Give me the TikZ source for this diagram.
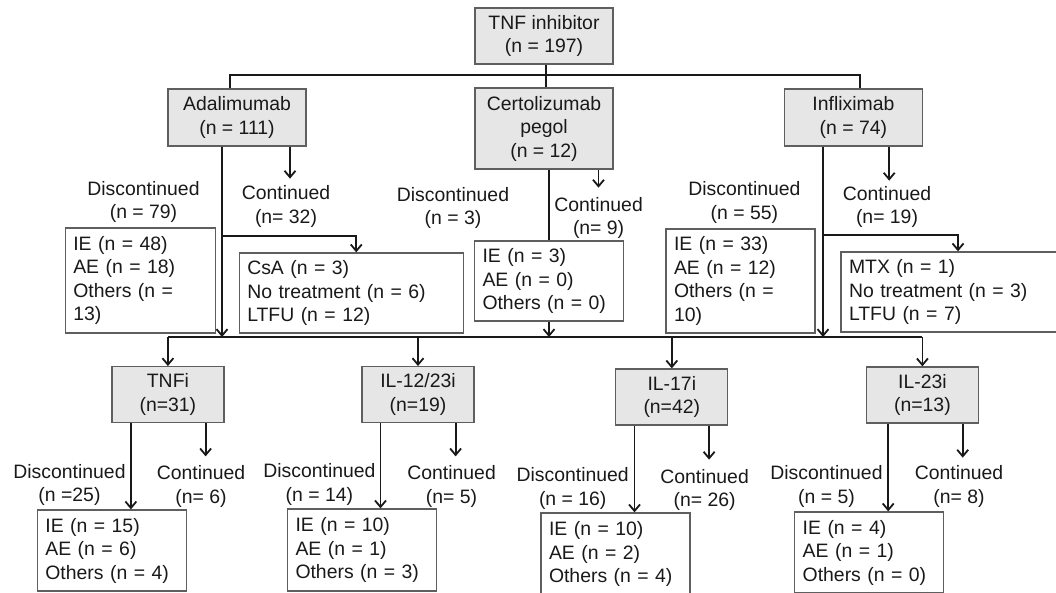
\documentclass[tikz,border=0pt]{standalone}
\usepackage{fontspec}
\setmainfont{Liberation Sans}
\usetikzlibrary{arrows.meta}
\definecolor{boxgray}{RGB}{230,230,230}
\definecolor{edgegray}{RGB}{95,95,95}
\definecolor{ink}{RGB}{25,25,25}
\begin{document}
\begin{tikzpicture}[x=1pt,y=-1pt,
  every node/.style={font=\fontsize{19.4}{23.5}\selectfont, text=ink},
  gbox/.style={draw=edgegray, fill=boxgray, line width=1.3pt, align=center, inner sep=0pt},
  wbox/.style={draw=edgegray, fill=white, line width=1.3pt, align=left, inner xsep=8pt, inner ysep=0pt},
  lbl/.style={align=center, inner sep=0pt},
  conn/.style={draw=ink, line width=1.8pt},
  arr/.style={conn, -{Straight Barb[length=6.5pt,width=11pt]}},
]
\useasboundingbox (0,0) rectangle (1056,592);
\clip (0,0) rectangle (1056,592);

% top level
\node[gbox, minimum width=138, minimum height=56] (tnf) at (544,36) {TNF inhibitor\\(n = 197)};
\node[gbox, minimum width=138, minimum height=57] (ada) at (237,117.5) {Adalimumab\\(n = 111)};
\node[gbox, minimum width=138, minimum height=81] (cert) at (544,128.5) {Certolizumab\\pegol\\(n = 12)};
\node[gbox, minimum width=138, minimum height=57] (inf) at (853.4,117.5) {Infliximab\\(n = 74)};

% middle labels
\node[lbl] (adaD) at (143.5,202) {Discontinued\\(n = 79)};
\node[lbl] (adaC) at (286,206.5) {Continued\\(n= 32)};
\node[lbl] (certD) at (453,208) {Discontinued\\(n = 3)};
\node[lbl] (certC) at (598.6,218) {Continued\\(n= 9)};
\node[lbl] (infD) at (744.4,202.5) {Discontinued\\(n = 55)};
\node[lbl] (infC) at (887,207) {Continued\\(n= 19)};

% middle boxes
\node[wbox, text width=134, minimum height=105] (d1) at (140.3,280.5) {IE (n = 48)\\AE (n = 18)\\Others (n =\\13)};
\node[wbox, text width=208, minimum height=80] (c1) at (351.25,293) {CsA (n = 3)\\No treatment (n = 6)\\LTFU (n = 12)};
\node[wbox, text width=133, minimum height=80] (d2) at (549,281) {IE (n = 3)\\AE (n = 0)\\Others (n = 0)};
\node[wbox, text width=133, minimum height=104] (d3) at (740.5,281) {IE (n = 33)\\AE (n = 12)\\Others (n =\\10)};
\node[wbox, text width=205, minimum height=80] (c3) at (951.5,292) {MTX (n = 1)\\No treatment (n = 3)\\LTFU (n = 7)};

% second-line drugs
\node[gbox, minimum width=112, minimum height=56] (tnfi) at (167.9,394.7) {TNFi\\(n=31)};
\node[gbox, minimum width=112, minimum height=56] (il12) at (418,394.7) {IL-12/23i\\(n=19)};
\node[gbox, minimum width=112, minimum height=56] (il17) at (671.8,397) {IL-17i\\(n=42)};
\node[gbox, minimum width=112, minimum height=56] (il23) at (922.4,395) {IL-23i\\(n=13)};

% bottom labels
\node[lbl] (tD) at (69.5,485) {Discontinued\\(n =25)};
\node[lbl] (tC) at (201,486.5) {Continued\\(n= 6)};
\node[lbl] (aD) at (319.4,484.5) {Discontinued\\(n = 14)};
\node[lbl] (aC) at (451.6,486.5) {Continued\\(n= 5)};
\node[lbl] (bD) at (572.7,488.5) {Discontinued\\(n = 16)};
\node[lbl] (bC) at (704.6,490) {Continued\\(n= 26)};
\node[lbl] (cD) at (826.5,486.5) {Discontinued\\(n = 5)};
\node[lbl] (cC) at (959,486.5) {Continued\\(n= 8)};

% bottom boxes
\node[wbox, text width=133, minimum height=81] (b1) at (111.9,550.5) {IE (n = 15)\\AE (n = 6)\\Others (n = 4)};
\node[wbox, text width=133, minimum height=82] (b2) at (362,550) {IE (n = 10)\\AE (n = 1)\\Others (n = 3)};
\node[wbox, text width=133, minimum height=82] (b3) at (615.5,554) {IE (n = 10)\\AE (n = 2)\\Others (n = 4)};
\node[wbox, text width=133, minimum height=81] (b4) at (869.2,552.5) {IE (n = 4)\\AE (n = 1)\\Others (n = 0)};

% coordinates
\coordinate (barL) at (167.9,337);
\coordinate (barR) at (922.4,337);
\coordinate (adaL) at ([xshift=-15pt]ada.south);
\coordinate (adaR) at ([xshift=53pt]ada.south);
\coordinate (certL) at ([xshift=5pt]cert.south);
\coordinate (certR) at ([xshift=54.5pt]cert.south);
\coordinate (infL) at ([xshift=-30.4pt]inf.south);
\coordinate (infR) at ([xshift=35.8pt]inf.south);
\coordinate (adaB) at (222,236);
\coordinate (infB) at (823,235);

% connectors top
\draw[conn] ([xshift=1.6pt]tnf.south) -- ([xshift=1.6pt]cert.north);
\draw[conn] ([xshift=-7pt]ada.north) -- ++(0,-13) -| ([xshift=6.8pt]inf.north);

\draw[arr] (adaL) -- (adaL |- barL);
\draw[arr] (adaR) -- ++(0,32);
\draw[arr] (adaB) -| ([xshift=5pt]c1.north);

\draw[conn] (certL) -- (d2.north);
\draw[arr] (d2.south) -- (d2.south |- barL);
\draw[arr] (certR) -- ++(0,18);

\draw[arr] (infL) -- (infL |- barL);
\draw[arr] (infR) -- ++(0,34);
\draw[arr] (infB) -| ([xshift=6.5pt]c3.north);

% bar
\draw[conn] (barL) -- (barR);
\draw[arr] (barL) -- (tnfi.north);
\draw[arr] (il12.north |- barL) -- (il12.north);
\draw[arr] (il17.north |- barL) -- (il17.north);
\draw[arr] (barR) -- (il23.north);

% bottom connectors
\coordinate (tL) at ([xshift=-37pt]tnfi.south);
\coordinate (aL) at ([xshift=-37.5pt]il12.south);
\coordinate (bL) at ([xshift=-37.3pt]il17.south);
\coordinate (cL) at ([xshift=-34.2pt]il23.south);
\draw[arr] (tL) -- (tL |- b1.north);
\draw[arr] (aL) -- (aL |- b2.north);
\draw[arr] (bL) -- (bL |- b3.north);
\draw[arr] (cL) -- (cL |- b4.north);
\draw[arr] ([xshift=37.7pt]tnfi.south) -- ++(0,33);
\draw[arr] ([xshift=37.6pt]il12.south) -- ++(0,33);
\draw[arr] ([xshift=37.3pt]il17.south) -- ++(0,34);
\draw[arr] ([xshift=40.3pt]il23.south) -- ++(0,34);
\end{tikzpicture}
\end{document}
